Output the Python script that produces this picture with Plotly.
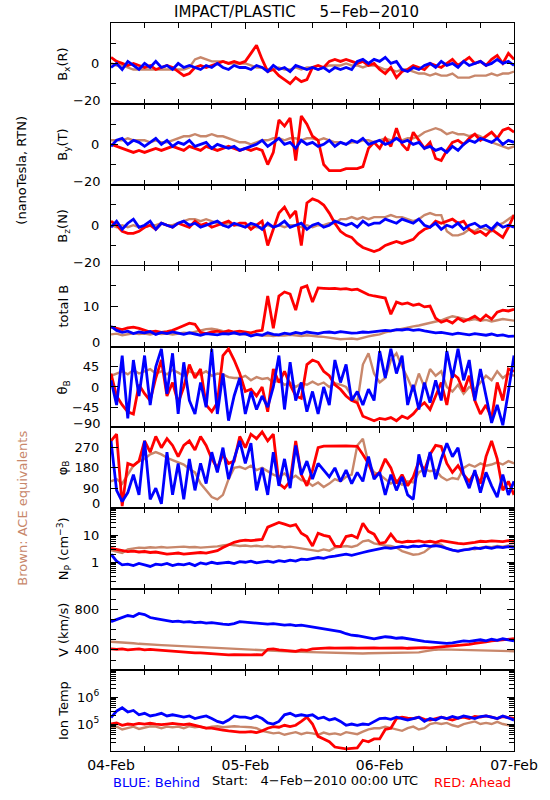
import numpy as np
import plotly.graph_objects as go
from plotly.subplots import make_subplots

# ---------------- data (hourly, 04-Feb-2010 00:00 .. 07-Feb-2010 00:00) ----------------
hours = list(range(73))
tick_hours = [0, 24, 48, 72]
tick_dates = ["04-Feb", "05-Feb", "06-Feb", "07-Feb"]

# Bx (R), nT
blue_bx = [-2, 0, -3, 1, -1, -3, 0, -2, 1, -2, -1, -3,
           0, -2, -1, -2, -3, -1, -2, 0, -2, -3, -1, -2,
           -2, -3, -1, -2, -4, -1, -3, -2, -4, -1, -2, -3,
           -2, -3, -2, -4, -2, -3, -2, -3, 1, 2, 0, 2,
           1, 3, 0, 1, -3, -4, -2, -3, -1, 0, -2, 1,
           -1, 0, -2, 1, -1, 0, 1, -1, 0, 2, 0, 1, -1]
red_bx = [3, 1, 0, -1, 0, -1, -2, -1, -3, -2, -1, -2,
          -4, -6, -5, -2, -1, -2, -1, 0, 1, 0, 1, 0,
          1, 5, 9, 2, -4, -3, -6, -8, -10, -7, -9, -8,
          -2, -1, -2, 1, 2, 1, 2, 1, 0, 1, -1, 0,
          -3, -5, -2, -7, -4, -3, -1, -2, -3, 0, -1, -2,
          0, 2, -1, 1, 3, 0, 1, -1, 2, 4, 0, 5, 2]
brown_bx = [0, -1, -1, -2, -3, -3, -3, -3, -3, -3, -3, -3,
            -3, -3, -2, 2, 3, 2, 1, 1, 1, 0, 0, 0,
            0, -1, -2, -2, -3, -3, -2, -3, -3, -2, -3, -2,
            -2, -3, -2, -1, -1, -1, 0, -1, -1, -2, -1, -1,
            -2, -3, -3, -4, -3, -3, -4, -5, -5, -6, -5, -6,
            -6, -5, -7, -7, -7, -6, -6, -6, -5, -6, -5, -5, -4]

# By (T), nT
blue_by = [-1, 2, 3, 0, 2, 1, -1, 1, 3, 0, 2, -1,
           1, 0, 2, -1, 0, 1, -2, 0, -1, -2, -1, -3,
           -2, -1, 0, 2, -1, 1, 3, 0, 1, -2, 2, 0,
           1, -1, 0, 2, -1, 1, 0, 2, 1, 3, 0, 1,
           2, 0, 1, 3, 1, 2, 0, 1, -2, -1, -3, -2,
           -4, -1, -3, 0, 2, 1, 3, 2, 1, 3, 0, 2, 1]
red_by = [0, -1, -2, -3, -4, -3, -4, -3, -2, -3, -2, -1,
          -2, -3, -1, -2, -3, -1, -2, -3, -2, -1, -2, -3,
          -2, -3, -2, -3, -10, -4, 12, 9, 13, -8, 14, 10,
          4, 2, -10, -13, -13, -13, -12, -12, -12, -11, -2, 1,
          -2, 3, -1, 8, 0, -3, 6, 2, -2, 1, -7, -8,
          -3, 1, 2, 0, 3, 5, 2, 4, 6, 3, 7, 8, 6]
brown_by = [2, 2, 2, 3, 2, 2, 2, 1, 2, 1, 1, 2,
            3, 4, 4, 5, 4, 4, 5, 4, 4, 3, 2, 1,
            1, 0, 1, 2, 2, 3, 3, 2, 3, 3, 2, 3,
            3, 2, 3, 2, 1, 1, 0, 1, 1, 2, 2, 1,
            2, 3, 2, 3, 2, 3, 3, 4, 6, 7, 8, 7,
            5, 6, 5, 5, 4, 5, 4, 2, 1, 0, -1, -2, -1]

# Bz (N), nT
blue_bz = [-1, 2, -2, 1, 3, -1, 0, 2, -2, 1, 0, -1,
           1, 2, 0, 1, -1, 0, 1, 2, 0, -1, 1, 0,
           -1, 1, 0, -2, 1, -1, 0, 2, -1, 0, 1, -2,
           0, 1, -1, 0, 2, 1, 0, 1, -1, 2, 0, 1,
           1, 3, 2, 1, 3, 2, 1, 3, 0, -1, 1, -2,
           0, -1, 1, -2, 0, 1, -1, 0, -2, 1, -1, 0, -1]
red_bz = [2, 0, -3, -4, -4, -3, -1, 0, -2, 1, 0, -1,
          1, 0, -1, 2, 0, 1, -1, 0, 1, 2, 0, 1,
          1, -2, 0, 2, -10, -2, 6, 9, 4, 7, -10, 11,
          13, 12, 10, 6, 1, -3, -5, -6, -9, -11, -12, -13,
          -12, -10, -9, -8, -9, -8, -7, -4, -2, -1, 2, 1,
          2, 3, 1, 2, -2, -4, -3, -5, -2, -4, -6, -1, 5]
brown_bz = [0, -1, 0, -1, 0, -1, -1, 0, 0, 1, 0, 0,
            1, 2, 3, 3, 2, 3, 2, 1, 0, 1, 0, 0,
            -1, 0, -1, -1, 0, -1, 0, -1, 0, 0, -1, 0,
            -1, 0, 0, 1, 1, 3, 3, 4, 3, 4, 3, 4,
            4, 4, 5, 4, 4, 3, 2, 3, 5, 6, 5, 5,
            -3, -5, -5, -4, -2, -3, -1, -2, -3, 0, 1, 3, 5]

# total B, nT
blue_bt = [5, 4, 3.5, 3.8, 3.2, 3.6, 3.4, 3.7, 3, 3.5, 3.2, 3.6,
           3.3, 3.0, 3.4, 3.1, 2.8, 3.2, 3.0, 2.9, 3.2, 3.1, 3.4, 3.0,
           3.2, 2.6, 3.0, 2.8, 3.4, 3.0, 2.9, 3.3, 3.1, 3.5, 3.2, 3.6,
           3.4, 3.2, 3.5, 3.6, 3.4, 3.7, 3.5, 3.3, 3.4, 3.6, 3.5, 3.7,
           3.8, 4.0, 3.9, 4.2, 4.1, 4.3, 4.0, 4.2, 3.9, 3.6, 3.4, 3.5,
           3.2, 3.0, 3.3, 3.1, 2.9, 3.2, 3.0, 2.8, 3.1, 2.7, 2.9, 2.5, 2.6]
red_bt = [4.8, 4.5, 4.2, 4.6, 4.8, 4.5, 4.0, 3.6, 3.8, 3.5, 3.7, 4.0,
          4.6, 5.2, 5.8, 5.5, 3.5, 3.2, 3.6, 3.8, 3.5, 3.9, 3.6, 3.8,
          3.6, 3.4, 3.8, 4.0, 12.5, 4.5, 12.5, 13.5, 13.0, 9.0, 14.5, 15.0,
          11.0, 14.5, 14.4, 14.3, 14.4, 14.2, 14.3, 14.0, 14.2, 13.5, 12.8, 12.5,
          12.3, 12.0, 8.0, 11.0, 10.5, 10.8, 10.2, 10.5, 9.8, 10.0, 7.0, 6.0,
          6.5, 5.8, 7.0, 6.2, 6.8, 7.5, 6.5, 7.8, 6.8, 8.5, 9.0, 8.8, 9.2]
brown_bt = [3.0, 3.2, 2.8, 3.0, 3.3, 3.1, 3.2, 3.0, 3.3, 3.1, 3.2, 3.0,
            3.2, 3.4, 3.3, 3.6, 4.0, 4.3, 4.4, 4.2, 3.8, 3.5, 3.3, 3.2,
            3.0, 2.8, 2.9, 2.7, 2.8, 2.6, 2.8, 2.7, 2.9, 2.7, 2.6, 2.8,
            2.6, 2.5, 2.4, 2.2, 2.0, 1.8, 1.9, 2.0, 1.8, 2.2, 2.5, 2.8,
            3.0, 3.5, 3.8, 4.2, 4.5, 4.8, 5.0, 5.2, 5.5, 5.8, 6.2, 6.5,
            7.0, 7.5, 7.2, 6.8, 6.5, 6.8, 6.4, 6.6, 6.2, 6.5, 6.8, 6.6, 6.4]

# theta_B, degrees
blue_th = [15, -40, 70, -70, 60, -20, 70, -40, 45, 85, -15, 75,
           -60, 55, -30, -60, 10, -45, 85, -60, 30, -75, -20, 20,
           -60, -10, -50, -20, -45, 0, 70, -50, 55, -30, 10, -55,
           -10, -60, 0, -40, 60, 10, 50, -30, -10, -40, -5, -30,
           80, 20, 85, 30, 70, -40, 5, -50, 10, -35, 15, -30,
           80, 20, 85, 15, 60, -30, 40, -20, -80, -40, -85, -10, 70]
red_th = [30, -20, -40, -55, -60, 5, -15, -30, 20, 60, -20, 10,
          -35, 0, 50, 20, 40, -40, -55, -35, 70, 85, 60, 30,
          -10, -5, -20, 0, -55, 40, 10, 35, 5, -20, -25, 50,
          60, 55, 35, 25, 5, -5, -20, -30, -35, -65, -70, -75,
          -70, -72, -68, -75, -65, -70, -60, -45, -35, -50, -20, 10,
          -40, 30, 20, -10, 25, -30, -60, -40, -70, 10, -30, 40, 35]
brown_th = [25, 30, 35, 28, 38, 30, 35, 40, 30, 35, 28, 38,
            32, 25, 35, 30, 28, 35, 25, 30, 28, 22, 20, 20,
            25, 15, 22, 18, 20, 10, 15, 5, 10, 0, 8, 5,
            12, 5, 10, 0, 8, 5, 0, -20, -35, 50, 75, 30,
            10, 20, 60, 75, 45, 20, -10, 30, 0, 40, 25, 35,
            0, -10, 5, -15, 0, -5, 10, 25, 15, 35, 20, 30, 25]

# phi_B, degrees
blue_ph = [300, 80, 30, 70, 150, 60, 300, 40, 90, 20, 250, 60,
           200, 40, 220, 80, 200, 110, 250, 160, 270, 130, 220, 300,
           200, 290, 80, 180, 60, 250, 100, 220, 90, 280, 150, 210,
           130, 200, 170, 140, 180, 120, 170, 110, 160, 120, 230, 130,
           160, 60, 150, 80, 140, 60, 40, 240, 140, 250, 130, 220,
           290, 230, 270, 150, 90, 170, 70, 160, 100, 50, 150, 60, 120]
red_ph = [300, 330, 10, 200, 190, 210, 300, 250, 320, 270, 310, 280,
          230, 280, 300, 260, 320, 280, 220, 180, 240, 200, 210, 320,
          270, 330, 310, 340, 300, 330, 110, 90, 120, 300, 150, 100,
          170, 270, 277, 278, 276, 277, 278, 277, 276, 240, 200, 140,
          160, 220, 180, 110, 150, 100, 140, 210, 170, 240, 280, 275,
          200, 160, 190, 150, 120, 160, 110, 230, 300, 220, 80, 120, 60]
brown_ph = [120, 130, 110, 150, 190, 210, 220, 240, 250, 240, 225, 215,
            205, 195, 175, 160, 110, 80, 50, 40, 60, 130, 180, 185,
            175, 190, 170, 180, 165, 150, 140, 155, 130, 145, 125, 120,
            100, 115, 95, 110, 130, 120, 140, 150, 280, 310, 200, 160,
            150, 130, 110, 125, 105, 120, 115, 160, 175, 165, 170, 140,
            125, 135, 130, 180, 195, 185, 200, 190, 195, 205, 195, 210, 200]

# proton density, cm^-3
blue_np = [2.0, 1.1, 0.8, 0.85, 0.75, 0.9, 0.8, 0.7, 0.85, 0.8, 0.9, 0.75,
           0.85, 0.8, 0.9, 0.75, 0.95, 0.85, 1.0, 0.9, 0.95, 1.0, 0.9, 1.05,
           1.0, 1.1, 0.95, 1.05, 1.1, 1.0, 1.15, 1.05, 1.2, 1.1, 1.3, 1.25,
           1.35, 1.5, 1.4, 1.6, 1.7, 1.9, 2.0, 1.8, 2.1, 2.3, 2.6, 2.9,
           3.2, 3.5, 3.3, 3.7, 3.9, 3.6, 4.0, 3.8, 4.2, 3.9, 4.1, 3.8,
           3.2, 2.8, 2.6, 2.9, 3.0, 3.4, 3.2, 3.6, 3.3, 3.7, 3.5, 3.8, 3.6]
red_np = [3.3, 3.0, 2.8, 2.5, 2.6, 2.4, 2.5, 2.3, 2.4, 2.2, 2.0, 2.1,
          2.2, 2.0, 2.1, 2.2, 2.3, 2.2, 2.5, 2.7, 3.5, 4.5, 5.5, 6.2,
          6.6, 6.4, 6.8, 7.0, 20, 24, 30, 26, 22, 25, 12, 9,
          4.0, 12, 10, 9, 4.0, 3.8, 9, 10, 8, 28, 14, 11,
          5, 5.5, 11, 6, 5.5, 6, 5.8, 6.2, 5.6, 6.0, 5.5, 6.3,
          5.8, 5.2, 5.0, 4.8, 5.0, 5.5, 6.0, 5.8, 6.2, 6.0, 5.8, 6.3, 6.0]
brown_np = [2.8, 2.5, 2.2, 3.0, 3.3, 3.5, 3.4, 3.6, 3.5, 3.7, 3.5, 3.6,
            3.5, 3.8, 3.6, 3.7, 3.5, 3.6, 3.8, 3.9, 4.2, 4.5, 4.3, 4.0,
            4.2, 3.9, 4.1, 3.8, 4.0, 3.7, 3.9, 3.6, 3.8, 3.5, 3.2, 3.0,
            2.8, 2.6, 3.0, 2.7, 3.5, 3.8, 4.0, 3.7, 4.2, 6.0, 6.5, 5.0,
            4.5, 4.2, 4.0, 3.5, 2.6, 2.2, 1.9, 2.0, 2.4, 3.5, 5.0, 4.5,
            3.2, 2.8, 2.5, 2.8, 3.2, 3.0, 3.5, 3.8, 3.6, 4.0, 3.8, 4.2, 4.0]

# bulk speed, km/s
blue_v = [680, 700, 720, 740, 730, 760, 750, 720, 710, 700, 690, 680,
          685, 675, 680, 670, 675, 665, 670, 660, 655, 650, 660, 680,
          675, 670, 665, 660, 655, 660, 650, 645, 650, 640, 645, 635,
          625, 620, 610, 600, 590, 580, 560, 545, 540, 530, 515, 510,
          520, 530, 525, 515, 520, 510, 505, 490, 485, 480, 475, 470,
          465, 470, 480, 490, 485, 495, 500, 490, 505, 495, 510, 500, 490]
red_v = [410, 405, 410, 400, 405, 410, 400, 405, 400, 395, 395, 390,
         385, 380, 375, 370, 370, 365, 360, 355, 355, 350, 352, 350,
         352, 350, 352, 350, 405, 410, 400, 395, 390, 385, 400, 395,
         410, 415, 418, 420, 418, 420, 422, 420, 418, 420, 422, 420,
         418, 420, 422, 418, 420, 416, 420, 418, 422, 420, 425, 430,
         432, 435, 440, 445, 455, 465, 470, 480, 490, 495, 500, 505, 510]
brown_v = [480, 478, 475, 470, 465, 460, 455, 450, 448, 447, 445, 442,
           440, 438, 435, 432, 430, 425, 420, 418, 415, 412, 410, 405,
           400, 398, 395, 393, 390, 388, 385, 384, 382, 380, 380, 378,
           376, 375, 374, 372, 370, 368, 366, 365, 364, 365, 366, 367,
           368, 370, 369, 368, 367, 368, 370, 375, 385, 395, 402, 405,
           404, 402, 400, 398, 396, 395, 394, 392, 390, 391, 389, 388, 387]

# ion temperature, K
blue_t = [1.74e5, 3.0e5, 4.0e5, 2.8e5, 3.2e5, 2.2e5, 2.5e5, 2.0e5, 2.2e5, 2.5e5, 2.0e5, 2.2e5,
          2.0e5, 1.8e5, 2.0e5, 1.6e5, 1.8e5, 2.0e5, 1.6e5, 1.25e5, 1.1e5, 1.4e5, 2.0e5, 1.8e5,
          1.8e5, 1.6e5, 2.0e5, 1.6e5, 1.1e5, 1.0e5, 1.25e5, 2.2e5, 2.5e5, 2.0e5, 2.2e5, 2.0e5,
          2.2e5, 1.6e5, 1.8e5, 1.4e5, 1.6e5, 1.25e5, 0.9e5, 1.0e5, 0.9e5, 1.0e5, 0.95e5, 1.25e5,
          1.6e5, 1.65e5, 1.5e5, 1.8e5, 1.6e5, 1.4e5, 1.6e5, 1.8e5, 1.25e5, 1.6e5, 1.4e5, 1.8e5,
          1.6e5, 1.9e5, 1.65e5, 2.0e5, 1.8e5, 1.6e5, 1.9e5, 2.0e5, 1.8e5, 1.6e5, 2.0e5, 1.65e5, 1.4e5]
red_t = [1.0e5, 1.1e5, 0.9e5, 1.0e5, 0.95e5, 1.05e5, 1.0e5, 1.07e5, 1.0e5, 0.95e5, 1.0e5, 1.05e5,
         1.0e5, 0.95e5, 1.0e5, 0.9e5, 0.8e5, 0.7e5, 0.7e5, 0.63e5, 0.6e5, 0.56e5, 0.52e5, 0.5e5,
         0.5e5, 0.52e5, 0.48e5, 0.56e5, 0.7e5, 0.8e5, 0.76e5, 0.9e5, 0.8e5, 0.9e5, 1.25e5, 1.8e5,
         1.0e5, 0.35e5, 0.28e5, 0.22e5, 0.14e5, 0.126e5, 0.12e5, 0.126e5, 0.13e5, 0.25e5, 0.22e5, 0.28e5,
         0.28e5, 0.63e5, 0.7e5, 1.6e5, 1.8e5, 1.65e5, 1.6e5, 1.8e5, 1.5e5, 1.4e5, 1.6e5, 1.8e5,
         1.6e5, 1.4e5, 1.65e5, 1.8e5, 1.6e5, 1.9e5, 1.8e5, 2.0e5, 1.8e5, 1.6e5, 1.9e5, 1.8e5, 1.6e5]
brown_t = [0.7e5, 0.8e5, 0.63e5, 0.7e5, 0.8e5, 0.66e5, 0.76e5, 0.83e5, 0.8e5, 0.7e5, 0.8e5, 0.76e5,
           0.8e5, 0.7e5, 0.83e5, 0.76e5, 0.8e5, 0.7e5, 0.8e5, 0.83e5, 0.76e5, 0.8e5, 0.83e5, 0.8e5,
           0.8e5, 0.76e5, 0.7e5, 0.56e5, 0.5e5, 0.45e5, 0.48e5, 0.4e5, 0.45e5, 0.5e5, 0.42e5, 0.48e5,
           0.45e5, 0.4e5, 0.48e5, 0.42e5, 0.45e5, 0.4e5, 0.5e5, 0.45e5, 0.42e5, 0.52e5, 0.63e5, 0.7e5,
           0.7e5, 0.8e5, 0.7e5, 0.63e5, 0.56e5, 0.7e5, 0.8e5, 0.63e5, 0.7e5, 1.0e5, 1.1e5, 1.0e5,
           1.1e5, 0.9e5, 0.8e5, 1.0e5, 1.1e5, 1.25e5, 1.0e5, 1.1e5, 1.0e5, 1.2e5, 1.0e5, 0.9e5, 0.83e5]

# ---------------- style ----------------
FONT = "DejaVu Sans"
RED = "#ff0000"
BLUE = "#0000ff"
BROWN = "#c8876b"

log_minor_np = [m * 10.0 ** e for e in (-1, 0, 1) for m in range(2, 10)]
log_minor_t = [m * 10.0 ** e for e in (4, 5, 6) for m in range(2, 10)]

# labelled ticks, unlabelled ticks (same length), edge label drawn as annotation
panels = [
    dict(title="B<sub>x</sub>(R)", data=(brown_bx, red_bx, blue_bx), type="linear", range=[-20, 20],
         tickvals=[0], ticktext=["0"], plain=[-20, -10, 10, 20], edge=("\u221220", -20, 3)),
    dict(title="B<sub>y</sub>(T)", data=(brown_by, red_by, blue_by), type="linear", range=[-20, 20],
         tickvals=[0], ticktext=["0"], plain=[-20, -10, 10, 20], edge=("\u221220", -20, 3)),
    dict(title="B<sub>z</sub>(N)", data=(brown_bz, red_bz, blue_bz), type="linear", range=[-20, 20],
         tickvals=[0], ticktext=["0"], plain=[-20, -10, 10, 20], edge=("\u221220", -20, 3)),
    dict(title="total B", data=(brown_bt, red_bt, blue_bt), type="linear", range=[0, 20],
         tickvals=[10], ticktext=["10"], plain=[0, 5, 15, 20], edge=("0", 0, 4)),
    dict(title="\u03b8<sub>B</sub>", data=(brown_th, red_th, blue_th), type="linear", range=[-90, 90],
         tickvals=[-45, 0, 45], ticktext=["\u221245", "0", "45"], plain=[-90, 90], edge=("\u221290", -90, 4)),
    dict(title="\u03c6<sub>B</sub>", data=(brown_ph, red_ph, blue_ph), type="linear", range=[0, 360],
         tickvals=[90, 180, 270], ticktext=["90", "180", "270"], plain=[0, 360], edge=("0", 0, 5)),
    dict(title="N<sub>P</sub> (cm<sup>\u22123</sup>)", data=(brown_np, red_np, blue_np), type="log",
         range=[-1, 2], tickvals=[1, 10], ticktext=["1", "10"], plain=[0.1, 100],
         minor=log_minor_np, edge=None),
    dict(title="V (km/s)", data=(brown_v, red_v, blue_v), type="linear", range=[200, 1000],
         tickvals=[400, 800], ticktext=["400", "800"], plain=[200, 600, 1000],
         minor=[300, 500, 700, 900], edge=None),
    dict(title="Ion Temp", data=(brown_t, red_t, blue_t), type="log", range=[4, 7],
         tickvals=[1e5, 1e6], ticktext=["10<sup>5</sup>", "10<sup>6</sup>"], plain=[1e4, 1e7],
         minor=log_minor_t, edge=None),
]

N = len(panels)
fig = make_subplots(rows=N, cols=1, shared_xaxes=True, vertical_spacing=0)

for i, p in enumerate(panels):
    r = i + 1
    for vals, col, w in zip(p["data"], (BROWN, RED, BLUE), (2.4, 2.8, 2.8)):
        assert len(vals) == len(hours)
        fig.add_trace(go.Scatter(x=hours, y=vals, mode="lines",
                                 line=dict(color=col, width=w), showlegend=False,
                                 hoverinfo="skip"), row=r, col=1)
    minor_vals = list(p["plain"]) + list(p.get("minor", []))
    yax = dict(type=p["type"], range=p["range"], tickvals=p["tickvals"], ticktext=p["ticktext"],
               ticks="inside", ticklen=7, tickwidth=1, tickcolor="black",
               showline=True, linecolor="black", linewidth=1, mirror="allticks",
               showgrid=False, zeroline=False, ticklabelstandoff=8,
               tickfont=dict(family=FONT, size=13, color="black"),
               minor=dict(tickvals=minor_vals, ticks="inside", ticklen=5,
                          tickcolor="black", showgrid=False))
    fig.update_yaxes(**yax, row=r, col=1)
    fig.update_xaxes(range=[0, 72], tickvals=tick_hours, ticktext=tick_dates,
                     ticks="inside", ticklen=6, tickwidth=1, tickcolor="black",
                     minor=dict(dtick=6, ticks="inside", ticklen=5, tickcolor="black", showgrid=False),
                     showline=True, linecolor="black", linewidth=1, mirror="allticks",
                     showgrid=False, zeroline=False, showticklabels=(r == N),
                     ticklabelstandoff=1,
                     tickfont=dict(family=FONT, size=14, color="black"), row=r, col=1)

annotations = []
for i, p in enumerate(panels):
    yref = "y" if i == 0 else f"y{i + 1}"
    annotations.append(dict(text=p["title"], textangle=-90, xref="paper", yref=f"{yref} domain",
                            x=(62 - 111) / 415, y=0.5, xanchor="center", yanchor="middle",
                            showarrow=False, font=dict(family=FONT, size=13, color="black")))
    if p["edge"]:
        txt, val, sh = p["edge"]
        annotations.append(dict(text=txt, xref="paper", yref=yref, x=0, y=val,
                                xanchor="right", yanchor="middle", xshift=-9, yshift=sh,
                                showarrow=False, font=dict(family=FONT, size=13, color="black")))

annotations += [
    dict(text="IMPACT/PLASTIC\u00a0\u00a0\u00a0\u00a0\u00a05\u2212Feb\u22122010", xref="paper", yref="paper",
         x=(302 - 111) / 415, y=1 + (23 - 12) / 728, xanchor="center", yanchor="middle",
         showarrow=False, font=dict(family=FONT, size=15, color="black")),
    dict(text="(nanoTesla, RTN)", textangle=-90, xref="paper", yref="paper",
         x=(19 - 111) / 415, y=1 - (170 - 23) / 728, xanchor="center", yanchor="middle",
         showarrow=False, font=dict(family=FONT, size=13, color="black")),
    dict(text="Brown: ACE equivalents", textangle=-90, xref="paper", yref="paper",
         x=(19 - 111) / 415, y=1 - (508 - 23) / 728, xanchor="center", yanchor="middle",
         showarrow=False, font=dict(family=FONT, size=13, color=BROWN)),
    dict(text="BLUE: Behind", xref="paper", yref="paper", x=0, y=(751 - 782) / 728,
         xanchor="left", yanchor="middle", showarrow=False,
         font=dict(family=FONT, size=13, color=BLUE)),
    dict(text="Start:\u00a0\u00a0\u00a04\u2212Feb\u22122010 00:00 UTC", xref="paper", yref="paper",
         x=(213 - 111) / 415, y=(751 - 780) / 728, xanchor="left", yanchor="middle", showarrow=False,
         font=dict(family=FONT, size=13, color="black")),
    dict(text="RED: Ahead", xref="paper", yref="paper", x=(525 - 111) / 415, y=(751 - 782) / 728,
         xanchor="right", yanchor="middle", showarrow=False,
         font=dict(family=FONT, size=13, color=RED)),
]

fig.update_layout(width=550, height=800, margin=dict(l=111, r=24, t=23, b=49),
                  paper_bgcolor="white", plot_bgcolor="white",
                  font=dict(family=FONT, size=13, color="black"),
                  annotations=annotations, showlegend=False)

fig.write_html("out.html", config={"displayModeBar": False, "staticPlot": True},
               post_script="document.body.style.margin='0';document.body.style.overflow='hidden';")
